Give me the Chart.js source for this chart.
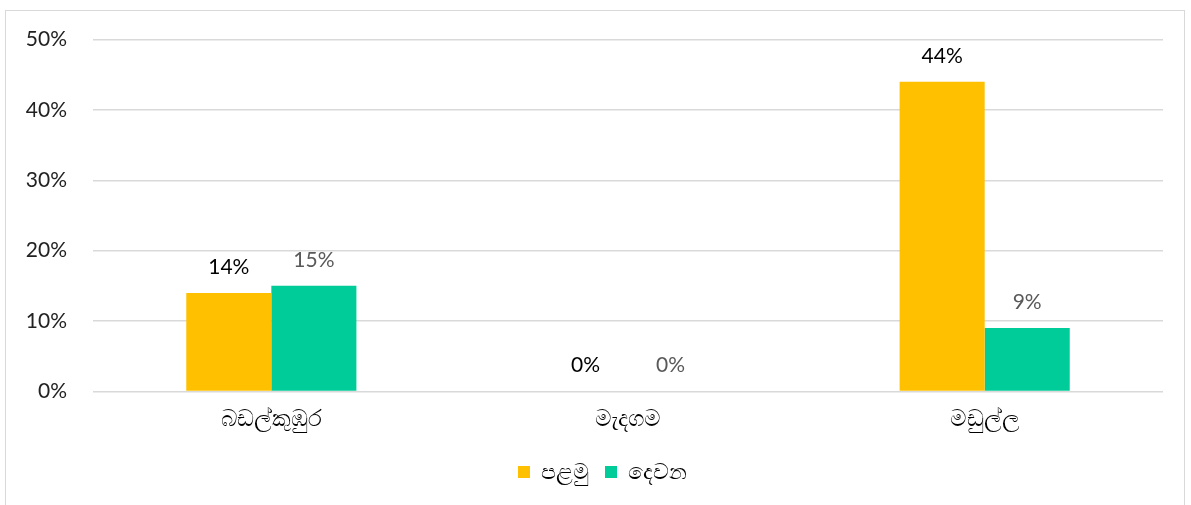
<!DOCTYPE html>
<html>
<head>
<meta charset="utf-8">
<script src="https://cdn.jsdelivr.net/npm/chart.js@4.4.1/dist/chart.umd.min.js"></script>
<style>
  html, body { margin: 0; padding: 0; background: #fff; }
  #frame {
    position: absolute; left: 5px; top: 10px;
    width: 1180px; height: 500px;
    border: 1px solid #d9d9d9; box-sizing: border-box;
  }
  /* canvas sits a little above the frame: the y ticks padding is also added above the axis */
  #villageChart { position: absolute; left: 6px; top: 1px; display: block; }
</style>
</head>
<body>
<div id="frame"></div>
<canvas id="villageChart" width="1178" height="504"></canvas>
<script>
// villages (x categories)
const categories = ['බඩල්කුඹුර', 'මැදගම', 'මඩුල්ල'];
// series
const firstLabel = 'පළමු';
const firstValues = [14, 0, 44];
const secondLabel = 'දෙවන';
const secondValues = [15, 0, 9];
// y axis ticks (percent)
const yTicks = [0, 10, 20, 30, 40, 50];

const FONT = "Lato, 'Noto Sans', 'DejaVu Sans', sans-serif";

// simple value-label plugin (datalabels is not available offline)
const barValueLabels = {
    id: 'barValueLabels',
    afterDatasetsDraw(chart) {
        const ctx = chart.ctx;
        ctx.save();
        ctx.font = '21px ' + FONT;
        ctx.textAlign = 'center';
        ctx.textBaseline = 'middle';
        chart.data.datasets.forEach((ds, i) => {
            const meta = chart.getDatasetMeta(i);
            ctx.fillStyle = ds.labelColor;
            meta.data.forEach((bar, j) => {
                ctx.fillText(ds.data[j] + '%', bar.x, bar.y - 26);
            });
        });
        ctx.restore();
    }
};

// legend is centred on the plot area in the original, not on the canvas
const legendNudge = {
    id: 'legendNudge',
    afterLayout(chart) {
        if (chart.legend) {
            chart.legend.left += 18;
            chart.legend.right += 18;
        }
    }
};

const ctx = document.getElementById('villageChart').getContext('2d');
new Chart(ctx, {
    type: 'bar',
    data: {
        labels: categories,
        datasets: [
            { label: firstLabel, data: firstValues, backgroundColor: '#FFC000', labelColor: '#000000' },
            { label: secondLabel, data: secondValues, backgroundColor: '#00CC99', labelColor: '#595959' }
        ]
    },
    options: {
        responsive: false,
        animation: false,
        layout: { padding: { left: 0, right: 21, top: 0, bottom: 12 } },
        datasets: { bar: { categoryPercentage: 0.477, barPercentage: 1.0 } },
        plugins: {
            legend: {
                position: 'bottom',
                labels: {
                    boxWidth: 12, boxHeight: 12, padding: 16,
                    color: '#000', font: { family: FONT, size: 22 }
                }
            },
            tooltip: { enabled: false }
        },
        scales: {
            x: {
                grid: { display: false, drawTicks: false },
                border: { display: false },
                ticks: { color: '#000', padding: 13, font: { family: FONT, size: 23 } }
            },
            y: {
                min: 0, max: 50,
                afterBuildTicks(scale) { scale.ticks = yTicks.map(v => ({ value: v })); },
                afterFit(scale) { scale.width = 87; },
                grid: { color: '#d9d9d9', lineWidth: 1.5, drawTicks: false },
                border: { display: false },
                ticks: {
                    color: '#222', padding: 26, font: { family: FONT, size: 21 },
                    callback: v => v + '%'
                }
            }
        }
    },
    plugins: [barValueLabels, legendNudge]
});
</script>
</body>
</html>
